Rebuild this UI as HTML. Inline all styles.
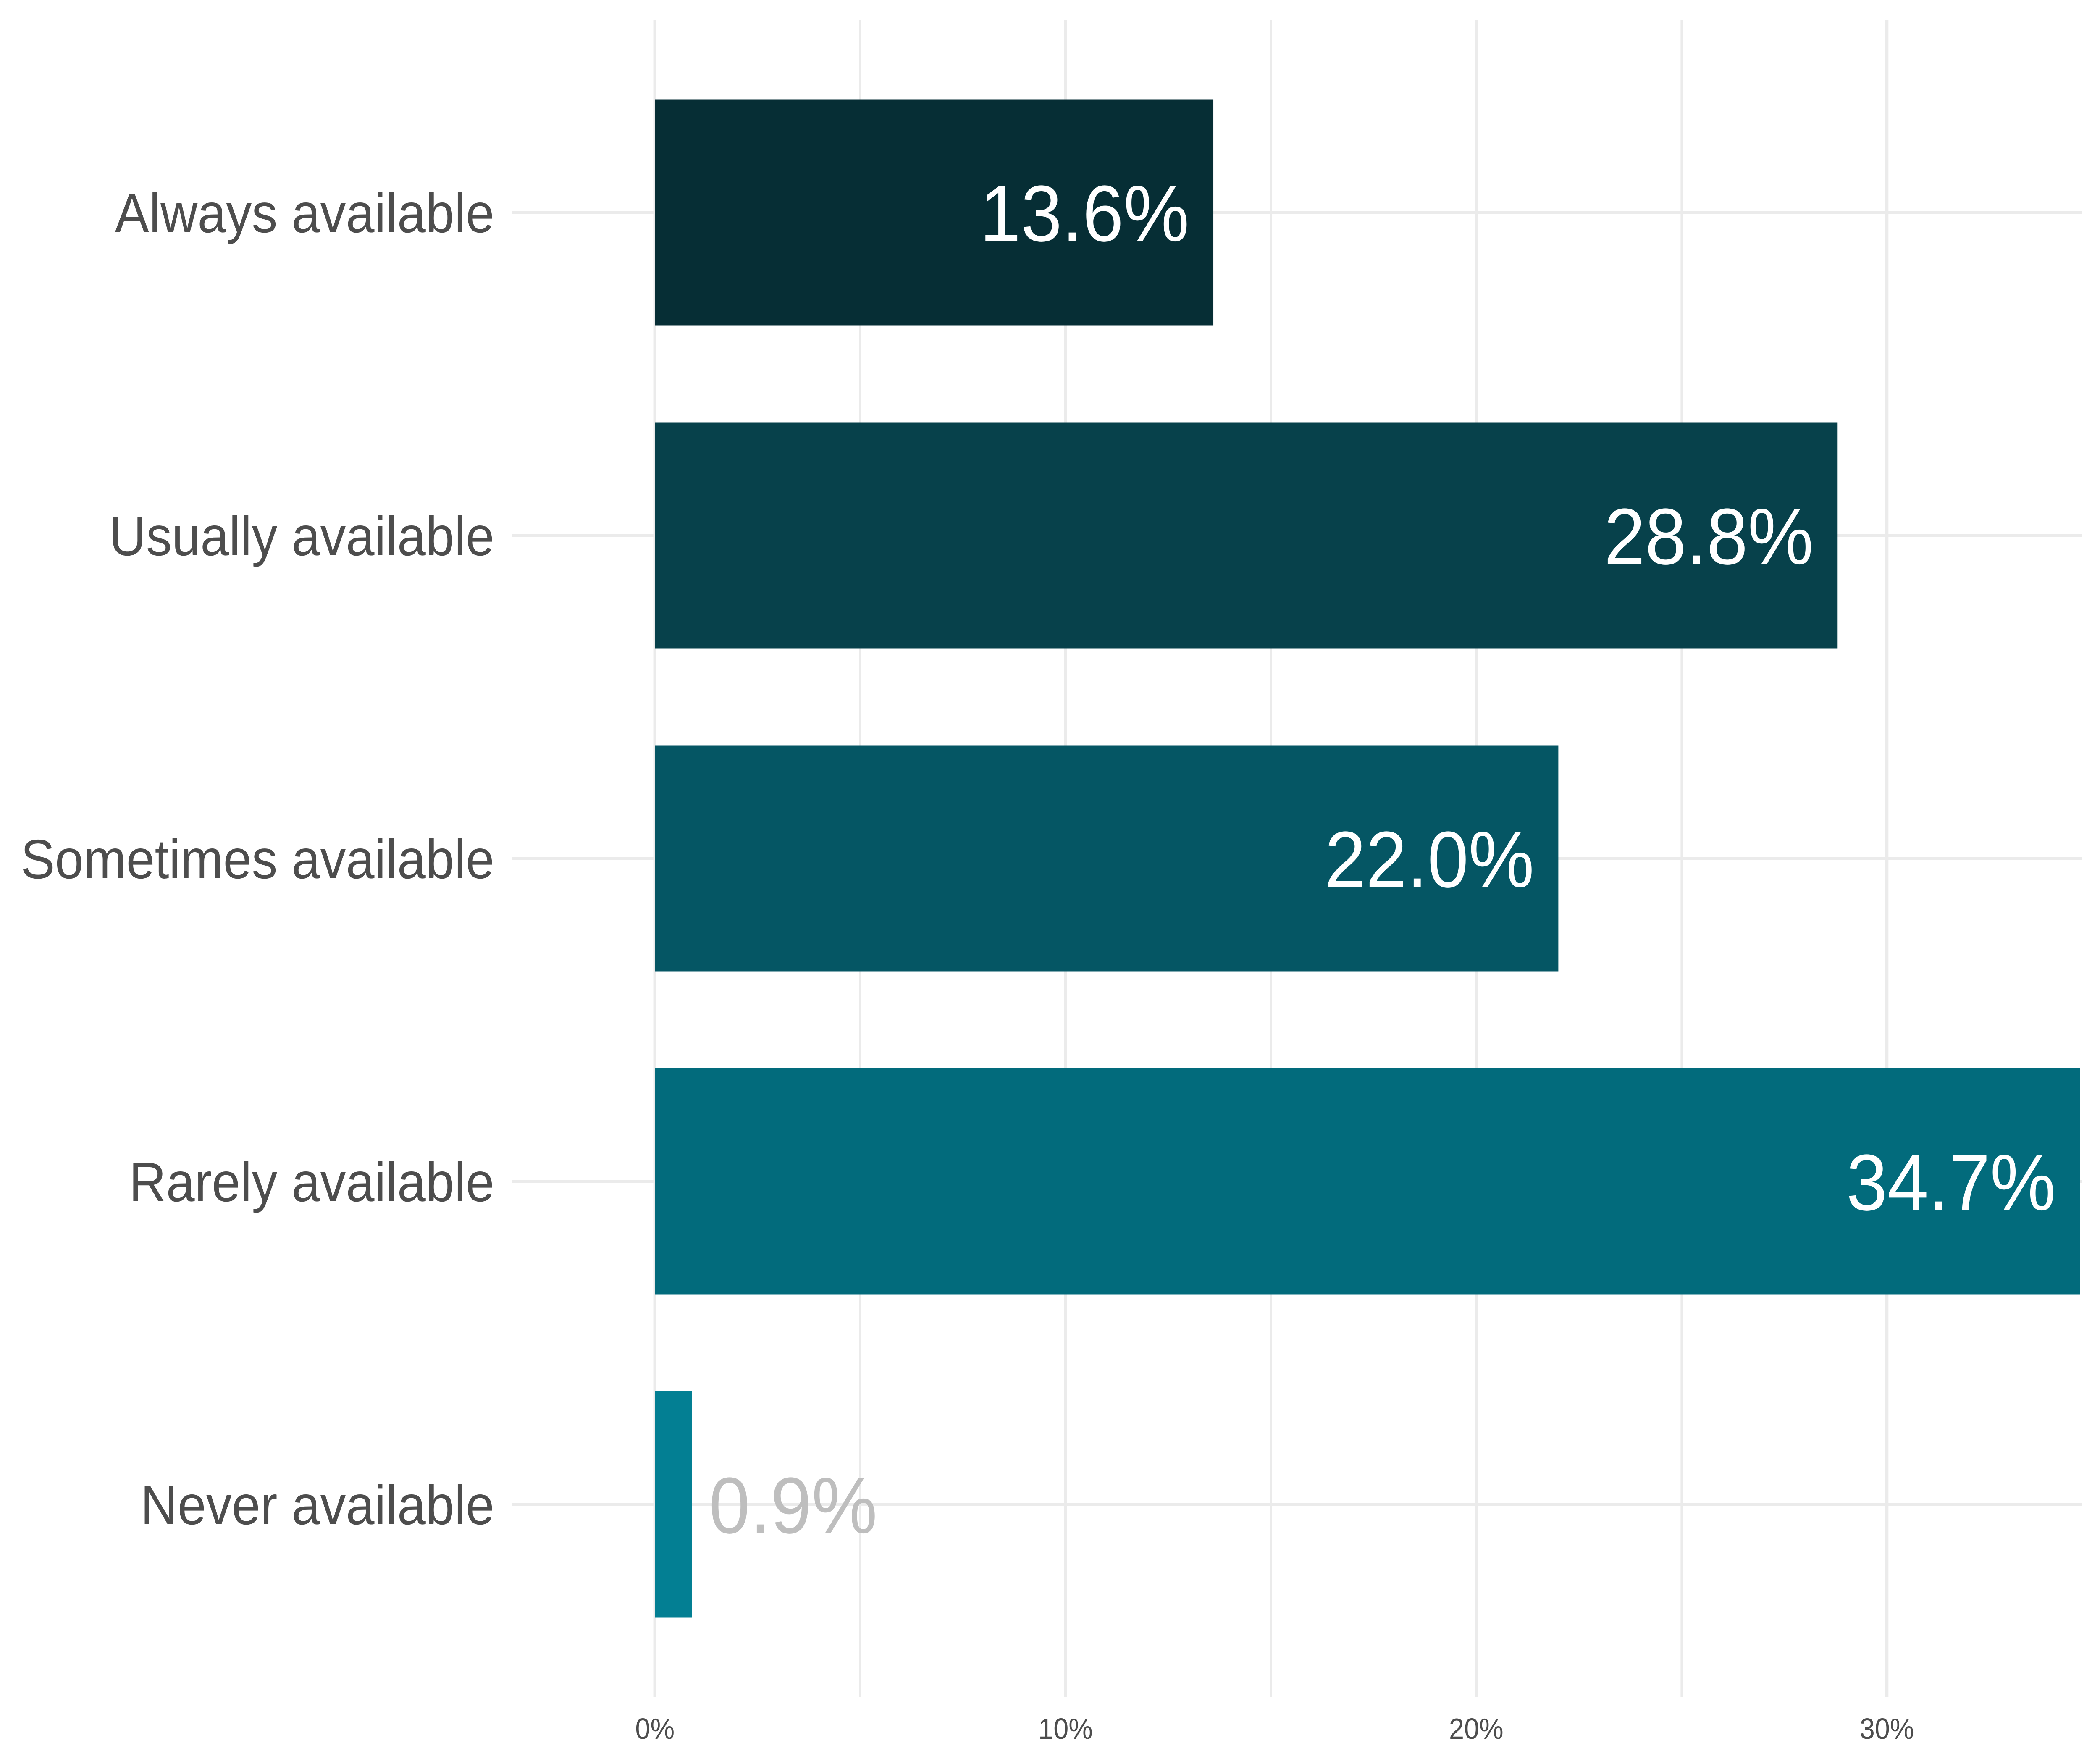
<!DOCTYPE html>
<html><head><meta charset="utf-8"><style>
html,body{margin:0;padding:0;background:#fff;width:100%;height:100%;overflow:hidden;}
svg{display:block;width:100vw;height:100vh;font-family:"Liberation Sans",Arial,sans-serif;}
</style></head><body>
<svg id="chart" viewBox="0 0 5400 4200" preserveAspectRatio="none" xmlns="http://www.w3.org/2000/svg">
<rect width="5400" height="4200" fill="#fff"/>
<g id="grid"></g>
<g id="bars"></g>
<g id="ylabels"></g>
<g id="xlabels"></g>
</svg>
<script>
const categories = ["Always available","Usually available","Sometimes available","Rarely available","Never available"];
const values = [13.6, 28.8, 22.0, 34.7, 0.9];
const valueLabels = ["13.6%","28.8%","22.0%","34.7%","0.9%"];
const xTicks = [0, 10, 20, 30];
const xTickLabels = ["0%","10%","20%","30%"];
const colors = ["#062e35","#07414b","#055664","#026b7c","#037f93"];

const NS = "http://www.w3.org/2000/svg";
const x0 = 1684, pxPer = 105.6, plotRight = 5354, plotTop = 48, plotBottom = 4040;
const yFirst = 506, yStep = 769, barH = 539;
const xs = v => x0 + v * pxPer;
const ys = i => yFirst + i * yStep;
function mk(tag, attrs, parent){const e=document.createElementNS(NS,tag);for(const k in attrs)e.setAttribute(k,attrs[k]);parent.appendChild(e);return e;}
const grid=document.getElementById('grid'), bars=document.getElementById('bars'), yl=document.getElementById('ylabels'), xl=document.getElementById('xlabels');

for (let v = 5; xs(v) < plotRight; v += 10) {
  const l = mk('line',{x1:xs(v),x2:xs(v),y1:plotTop,y2:plotBottom,stroke:'#ebebeb','stroke-width':5},grid);
  
  
}
xTicks.forEach((t,i)=>{
  const l = mk('line',{x1:xs(t),x2:xs(t),y1:plotTop,y2:plotBottom,stroke:'#ebebeb','stroke-width':8},grid);
  
  
  const tx = mk('text',{x:xs(t),y:4140,'text-anchor':'middle','font-size':70,fill:'#4d4d4d'},xl);
  tx.textContent = xTickLabels[i];
  
  
});
categories.forEach((c,i)=>{
  const y = ys(i);
  const g = mk('line',{x1:1316,x2:plotRight,y1:y,y2:y,stroke:'#ebebeb','stroke-width':8},grid);
  
  
  const w = Math.min(xs(values[i]), plotRight) - x0;
  const r = mk('rect',{x:x0,y:y-barH/2,width:w,height:barH,fill:colors[i]},bars);
  
  
  const inside = values[i] > 5;
  const t = mk('text',{x: inside ? x0+w-62 : x0+w+44, y:y+68,'text-anchor': inside?'end':'start','font-size':190,fill: inside?'#ffffff':'#bebebe'},bars);
  t.textContent = valueLabels[i];
  
  
  const lab = mk('text',{x:1271,y:y+47,'text-anchor':'end','font-size':132,fill:'#4d4d4d'},yl);
  lab.textContent = c;
  
  
});
</script>
</body></html>
